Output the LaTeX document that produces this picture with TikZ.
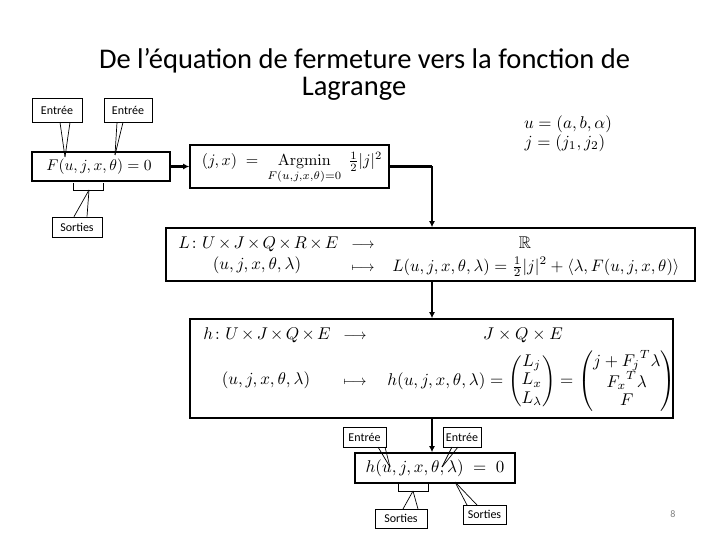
\documentclass[tikz,border=0pt]{standalone}
\usepackage{amsmath,amssymb}
\usepackage[no-math]{fontspec}
\setmainfont{Carlito}
\usetikzlibrary{arrows.meta}
\tikzset{
  bigbox/.style={draw, line width=1.6pt, inner sep=0pt},
  callbox/.style={draw, line width=0.7pt, inner sep=0pt, font=\fontsize{12}{14}\selectfont},
  callline/.style={line width=0.7pt},
  conn/.style={line width=2.2pt, -{Latex[length=6pt,width=6pt]}},
  eq/.style={inner sep=0pt, scale=1.7, transform shape},
  arr/.style={inner sep=0pt, scale=1.45, transform shape, anchor=base},
}
\begin{document}
\begin{tikzpicture}[x=1pt,y=-1pt]
\useasboundingbox (0,0) rectangle (720,540);
% title
\node[inner sep=0pt, anchor=base, font=\fontsize{28.5}{32}\selectfont] (t1) at (364.5,69) {De l’équation de fermeture vers la fonction de};
\node[inner sep=0pt, anchor=base, font=\fontsize{28.5}{32}\selectfont] (t2) at (354,96) {Lagrange};

% F box
\node[bigbox, minimum width=138, minimum height=29] (Fbox) at (101,166.5) {};
\node[inner sep=0pt, scale=1.55, transform shape] (Feq) at (99,166.5) {$F(u,j,x,\theta)=0$};
\node[callbox, minimum width=50, minimum height=24] (E1) at (57,110) {Entrée};
\node[callbox, minimum width=48, minimum height=24] (E2) at (128,110) {Entrée};
\node[callbox, minimum width=50, minimum height=20] (S1) at (77,227) {Sorties};
\coordinate (E1t) at (65,157);
\coordinate (E2t) at (115,155);
\draw[callline] ([xshift=3pt]E1.south) -- (E1t);
\draw[callline] ([xshift=13pt]E1.south) -- (E1t);
\draw[callline] ([xshift=-11pt]E2.south) -- (E2t);
\draw[callline] ([xshift=-5pt]E2.south) -- (E2t);
\coordinate (Sb) at (89,190);
\draw[callline] (73,183) -- (73,190) -- (103,190) -- (103,183);
\draw[callline] (Sb) -- ([xshift=10pt]S1.north);
\draw[callline] (Sb) -- ([xshift=-3pt]S1.north);

% Argmin box
\node[bigbox, minimum width=199, minimum height=43] (Abox) at (289.5,166.5) {};
\node[inner sep=0pt, scale=1.6, transform shape] (Aeq) at (292,168) {$\displaystyle(j,x)\;=\;\operatorname*{Argmin}_{F(u,j,x,\theta)=0}\;\tfrac{1}{2}|j|^2$};
\draw[conn] (Fbox.east) -- (Abox.west);

% u, j
\node[eq] (ueq) at (568,124) {$u=(a,b,\alpha)$};
\node[eq] (jeq) at (565,143) {$j=(j_1,j_2)$};

% L box
\node[bigbox, minimum width=529, minimum height=53] (Lbox) at (430.5,254.5) {};
\coordinate (Ak) at (432,166.5);
\draw[line width=2.2pt] (Abox.east) -- (Ak);
\draw[conn] (Ak) -- (Lbox.north -| Ak);
\node[eq, anchor=base west] (L1a) at (178,248) {$\medmuskip=2.5mu L\colon U\times J\times Q\times R\times E$};
\node[arr] (L1b) at (363,248) {$\longrightarrow$};
\node[eq, anchor=base] (L1c) at (525,248) {$\mathbb{R}$};
\node[eq] (L2a) at (257,265) {$(u,j,x,\theta,\lambda)$};
\node[arr] (L2b) at (363,271) {$\longmapsto$};
\node[inner sep=0pt, scale=1.66, transform shape, anchor=base west] (L2c) at (392,271) {$L(u,j,x,\theta,\lambda)=\tfrac{1}{2}|j|^2+\langle\lambda,F(u,j,x,\theta)\rangle$};

% h box
\node[bigbox, minimum width=483, minimum height=99] (Hbox) at (431.5,368.5) {};
\draw[conn] (Lbox.south -| Ak) -- (Hbox.north -| Ak);
\node[eq, anchor=base west] (H1a) at (203,339) {$\medmuskip=2.5mu h\colon U\times J\times Q\times E$};
\node[arr] (H1b) at (355,339) {$\longrightarrow$};
\node[eq, anchor=base] (H1c) at (523,339) {$J\times Q\times E$};
\node[eq] (H2a) at (266,380) {$(u,j,x,\theta,\lambda)$};
\node[arr] (H2b) at (355,385) {$\longmapsto$};
\node[eq, anchor=west] (H2c) at (387,381) {\renewcommand\arraystretch{0.9}$h(u,j,x,\theta,\lambda)=\begin{pmatrix}L_j\\ L_x\\ L_\lambda\end{pmatrix}=\begin{pmatrix}j+{F_j}^T\lambda\\ {F_x}^T\lambda\\ F\end{pmatrix}$};

% bottom h box
\node[bigbox, minimum width=160, minimum height=30] (hbox) at (435,468) {};
\node[eq] (heq) at (hbox.center) {$h(u,j,x,\theta,\lambda)\;=\;0$};
\draw[conn] (Hbox.south -| Ak) -- (hbox.north -| Ak);
\node[callbox, minimum width=43, minimum height=20] (E3) at (364.5,437) {Entrée};
\node[callbox, minimum width=38, minimum height=20] (E4) at (462,437) {Entrée};
\node[callbox, minimum width=52, minimum height=19] (S3) at (401,518.5) {Sorties};
\node[callbox, minimum width=43, minimum height=19] (S4) at (484.5,514.5) {Sorties};
\coordinate (E3t) at (390,467);
\coordinate (E4t) at (442,467);
\coordinate (S3t) at (413,491);
\coordinate (S4t) at (455,482);
\draw[callline] (378,447) -- (E3t);
\draw[callline] (385,447) -- (E3t);
\draw[callline] (452,447) -- (E4t);
\draw[callline] (458,447) -- (E4t);
\draw[callline] (398,483) -- (398,491) -- (428,491) -- (428,483);
\draw[callline] (S3t) -- (403,509);
\draw[callline] (S3t) -- (418,509);
\draw[callline] (S4t) -- (467,505);
\draw[callline] (S4t) -- (477,505);

% page number
\node[inner sep=0pt, text=gray, font=\fontsize{10}{12}\selectfont] (pg) at (673,514) {8};
\end{tikzpicture}
\end{document}
